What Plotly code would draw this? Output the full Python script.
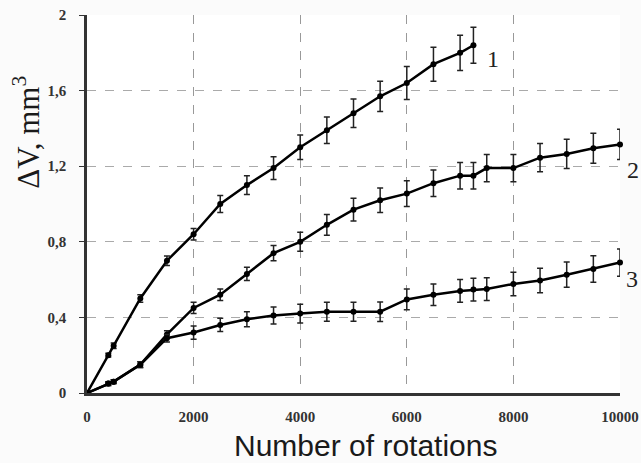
import plotly.graph_objects as go

# Data
x1 = [0, 400, 500, 1000, 1500, 2000, 2500, 3000, 3500, 4000, 4500, 5000, 5500, 6000, 6500, 7000, 7250]
y1 = [0, 0.20, 0.25, 0.50, 0.70, 0.84, 1.00, 1.10, 1.19, 1.30, 1.39, 1.48, 1.57, 1.64, 1.74, 1.80, 1.84]
e1 = [0, 0.01, 0.015, 0.02, 0.025, 0.03, 0.045, 0.05, 0.06, 0.065, 0.07, 0.075, 0.08, 0.087, 0.09, 0.093, 0.095]

x2 = [0, 400, 500, 1000, 1500, 2000, 2500, 3000, 3500, 4000, 4500, 5000, 5500, 6000, 6500, 7000, 7250, 7500, 8000, 8500, 9000, 9500, 10000]
y2 = [0, 0.05, 0.06, 0.15, 0.31, 0.45, 0.52, 0.63, 0.74, 0.80, 0.89, 0.97, 1.02, 1.055, 1.11, 1.15, 1.15, 1.19, 1.19, 1.245, 1.265, 1.295, 1.315]
e2 = [0, 0.01, 0.01, 0.015, 0.02, 0.03, 0.03, 0.035, 0.04, 0.05, 0.055, 0.06, 0.065, 0.068, 0.07, 0.07, 0.07, 0.072, 0.072, 0.075, 0.077, 0.08, 0.08]

x3 = [0, 400, 500, 1000, 1500, 2000, 2500, 3000, 3500, 4000, 4500, 5000, 5500, 6000, 6500, 7000, 7250, 7500, 8000, 8500, 9000, 9500, 10000]
y3 = [0, 0.05, 0.06, 0.15, 0.29, 0.32, 0.36, 0.39, 0.41, 0.42, 0.43, 0.43, 0.43, 0.495, 0.52, 0.54, 0.547, 0.55, 0.577, 0.595, 0.626, 0.656, 0.69]
e3 = [0, 0.01, 0.01, 0.015, 0.02, 0.035, 0.035, 0.04, 0.045, 0.05, 0.05, 0.05, 0.052, 0.055, 0.057, 0.06, 0.06, 0.06, 0.062, 0.065, 0.067, 0.07, 0.072]

curve_labels = ["1", "2", "3"]
x_ticks = [0, 2000, 4000, 6000, 8000, 10000]
y_ticks = [0, 0.4, 0.8, 1.2, 1.6, 2]
y_tick_text = ["0", "0,4", "0,8", "1,2", "1,6", "2"]
x_title = "Number of rotations"
y_title = "ΔV, mm<sup>3</sup>"

fig = go.Figure()
for xs, ys, es in [(x1, y1, e1), (x2, y2, e2), (x3, y3, e3)]:
    fig.add_trace(go.Scatter(
        x=xs, y=ys, mode="lines+markers",
        line=dict(color="black", width=2.5),
        marker=dict(color="black", size=6),
        error_y=dict(type="data", array=es, visible=True, color="#222", thickness=1.5, width=3),
        showlegend=False, cliponaxis=False,
    ))

# curve number labels, anchored at each curve's last point
label_shift = [(20, -14), (13, -26), (12, -16)]
for lab, xs, ys, (sx, sy) in zip(curve_labels, [x1, x2, x3], [y1, y2, y3], label_shift):
    fig.add_annotation(x=xs[-1], y=ys[-1], text=lab, showarrow=False,
                       xanchor="center", yanchor="middle", xshift=sx, yshift=sy,
                       font=dict(family="Liberation Serif", size=24, color="#222"))

# axis titles
fig.add_annotation(xref="paper", yref="paper", x=0.5, y=-0.14, xshift=12,
                   text=x_title, showarrow=False, xanchor="center", yanchor="middle",
                   font=dict(family="Liberation Sans", size=30, color="#1a1a1a"))
fig.add_annotation(xref="paper", yref="paper", x=-0.1135, y=0.69,
                   text=y_title, showarrow=False, textangle=-90,
                   xanchor="center", yanchor="middle",
                   font=dict(family="Liberation Serif", size=31, color="#1a1a1a"))

tick_font = dict(family="Liberation Serif", size=15, color="#333", weight="bold")
fig.update_layout(
    width=641, height=463,
    margin=dict(l=87, r=21, t=15, b=70),
    paper_bgcolor="#fbfbfb", plot_bgcolor="white",
    xaxis=dict(
        range=[0, 10000], tickvals=x_ticks, ticktext=[str(t) for t in x_ticks],
        showgrid=True, gridcolor="#999", griddash="dash", gridwidth=1,
        showline=True, linecolor="#333", linewidth=2.5,
        ticks="", zeroline=False, automargin=False, ticklabeloverflow="allow",
        ticklabelstandoff=8, tickfont=tick_font,
    ),
    yaxis=dict(
        range=[0, 2], tickvals=y_ticks, ticktext=y_tick_text,
        showgrid=True, gridcolor="#aaa", griddash="dash", gridwidth=1,
        showline=True, linecolor="#333", linewidth=2.5,
        ticks="outside", ticklen=5, tickcolor="#333", zeroline=False, automargin=False,
        ticklabeloverflow="allow", ticklabelstandoff=10, tickfont=tick_font,
    ),
)

fig.write_html(
    "out.html",
    config={"displayModeBar": False},
    post_script="document.body.style.margin='0';document.body.style.overflow='hidden';",
)
